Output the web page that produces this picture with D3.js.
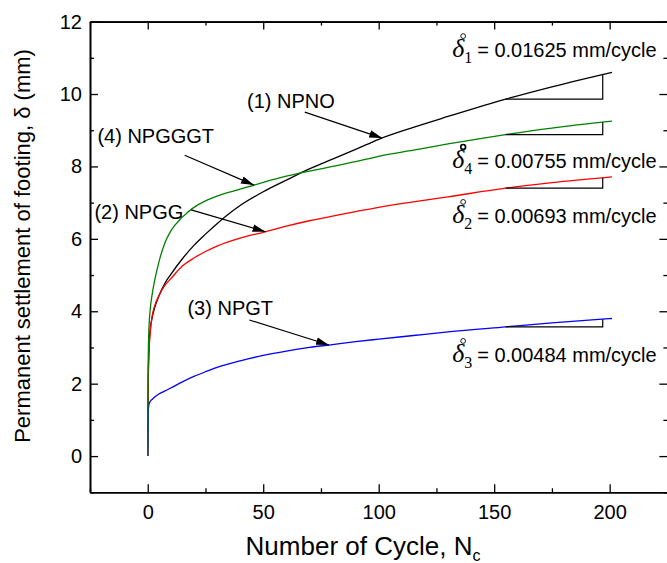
<!DOCTYPE html>
<html lang="en">
<head>
<meta charset="UTF-8">
<title>Permanent settlement of footing vs number of cycles</title>
<style>
  body { margin: 0; background: #fff; }
  svg { display: block; font-family: Arial, "Liberation Sans", sans-serif; }
</style>
</head>
<body>
<svg id="chart" width="667" height="563"></svg>
<script src="https://cdnjs.cloudflare.com/ajax/libs/d3/7.8.5/d3.min.js"></script>
<script>

// cycle numbers at which the curves were read
var cycles = [0, 0.2, 0.5, 1, 2, 3, 5, 7.5, 10, 15, 20, 25, 30, 40, 50, 60, 70, 80, 90, 100, 115, 130, 155, 175, 201];

// settlement (mm) of each test
var npno   = [0, 2.0, 2.9, 3.45, 3.85, 4.1, 4.45, 4.78, 5.02, 5.45, 5.82, 6.13, 6.42, 6.92, 7.3, 7.62, 7.93, 8.2, 8.47, 8.75, 9.08, 9.38, 9.86, 10.2, 10.6];
var npgg   = [0, 2.0, 2.8, 3.35, 3.9, 4.15, 4.45, 4.72, 4.9, 5.25, 5.47, 5.65, 5.8, 6.02, 6.18, 6.35, 6.5, 6.63, 6.75, 6.87, 7.02, 7.16, 7.4, 7.55, 7.71];
var npgt   = [0, 1.2, 1.42, 1.5, 1.57, 1.63, 1.72, 1.8, 1.88, 2.05, 2.2, 2.33, 2.45, 2.63, 2.78, 2.9, 3.0, 3.08, 3.16, 3.23, 3.33, 3.43, 3.57, 3.68, 3.8];
var npgggt = [0, 2.6, 3.5, 4.0, 4.5, 4.85, 5.4, 5.9, 6.22, 6.6, 6.87, 7.05, 7.18, 7.37, 7.56, 7.73, 7.87, 8.0, 8.13, 8.28, 8.45, 8.62, 8.88, 9.06, 9.25];

var seriesNames  = ["NPNO", "NPGG", "NPGT", "NPGGGT"];
var seriesValues = [npno, npgg, npgt, npgggt];
var seriesColors = ["#000000", "#ff0000", "#0000ff", "#008000"];

// tick values
var xTicks = [0, 50, 100, 150, 200];
var yTicks = [0, 2, 4, 6, 8, 10, 12];

// labels with arrows: text start, arrow tail (cycle, mm) and arrow tip cycle on the curve
var labelText  = ["(1) NPNO", "(2) NPGG", "(3) NPGT", "(4) NPGGGT"];
var labelAt    = [[43, 9.6], [-23.1, 6.55], [17.2, 3.9], [-21.8, 8.65]];
var arrowTail  = [[68, 9.5], [18.8, 6.8], [44, 3.76], [16, 8.31]];
var arrowTip   = [101.5, 51, 78.5, 46];

// slope triangles and rates (mm/cycle)
var slopeIndex = ["1", "2", "3", "4"];
var slopeRate  = ["0.01625", "0.00693", "0.00484", "0.00755"];
var slopeLabelAt = [[131.8, 11.02], [131.8, 6.44], [131.8, 2.6], [131.8, 7.96]];
var triangleFrom = 155, triangleTo = 197;

var svg = d3.select("#chart");
var mLeft = 90, mRight = 667.4, mTop = 21.6, mBottom = 492.3;

var x = d3.scaleLinear().domain([-25, 225]).range([mLeft, mRight]);
var y = d3.scaleLinear().domain([-1, 12]).range([mBottom, mTop]);

function valueAt(vals, n) {
    var i = d3.bisectRight(cycles, n);
    if (i <= 0) return vals[0];
    if (i >= cycles.length) return vals[vals.length - 1];
    var t = (n - cycles[i - 1]) / (cycles[i] - cycles[i - 1]);
    return vals[i - 1] + t * (vals[i] - vals[i - 1]);
}

// axes, ticks pointing inward on all four sides
function styleAxis(g) {
    g.select(".domain").attr("stroke-width", 1.6);
    g.selectAll(".tick line").attr("stroke-width", 1.3);
    g.selectAll(".tick text").attr("font-size", 20).attr("fill", "#000");
    g.attr("font-family", null);
}

var minorX = d3.range(-25, 226, 25).filter(function (d) { return xTicks.indexOf(d) < 0; });
var minorY = d3.range(-1, 13, 1).filter(function (d) { return yTicks.indexOf(d) < 0; });

svg.append("g").attr("transform", "translate(0," + mBottom + ")")
    .call(d3.axisBottom(x).tickValues(xTicks).tickSizeInner(-8).tickSizeOuter(0).tickPadding(13))
    .call(styleAxis);
svg.append("g").attr("transform", "translate(0," + mBottom + ")")
    .call(d3.axisBottom(x).tickValues(minorX).tickSizeInner(-4).tickSizeOuter(0).tickFormat(""))
    .call(styleAxis);
svg.append("g").attr("transform", "translate(0," + mTop + ")")
    .call(d3.axisTop(x).tickValues(xTicks).tickSizeInner(-8).tickSizeOuter(0).tickFormat(""))
    .call(styleAxis);
svg.append("g").attr("transform", "translate(0," + mTop + ")")
    .call(d3.axisTop(x).tickValues(minorX).tickSizeInner(-4).tickSizeOuter(0).tickFormat(""))
    .call(styleAxis);

svg.append("g").attr("transform", "translate(" + mLeft + ",0)")
    .call(d3.axisLeft(y).tickValues(yTicks).tickSizeInner(-8).tickSizeOuter(0).tickPadding(8))
    .call(styleAxis);
svg.append("g").attr("transform", "translate(" + mLeft + ",0)")
    .call(d3.axisLeft(y).tickValues(minorY).tickSizeInner(-4).tickSizeOuter(0).tickFormat(""))
    .call(styleAxis);
svg.append("g").attr("transform", "translate(" + mRight + ",0)")
    .call(d3.axisRight(y).tickValues(yTicks).tickSizeInner(-8).tickSizeOuter(0).tickFormat(""))
    .call(styleAxis);
svg.append("g").attr("transform", "translate(" + mRight + ",0)")
    .call(d3.axisRight(y).tickValues(minorY).tickSizeInner(-4).tickSizeOuter(0).tickFormat(""))
    .call(styleAxis);

// axis titles
var xTitle = svg.append("text")
    .attr("x", 363).attr("y", 555)
    .attr("text-anchor", "middle")
    .attr("font-size", 26);
xTitle.append("tspan").text("Number of Cycle, N");
xTitle.append("tspan").attr("font-size", 16).attr("dy", 6).text("c");

svg.append("text")
    .attr("transform", "translate(30,246) rotate(-90)")
    .attr("text-anchor", "middle")
    .attr("font-size", 22)
    .text("Permanent settlement of footing, \u03b4 (mm)");

// curves
var line = d3.line()
    .x(function (d) { return x(d[0]); })
    .y(function (d) { return y(d[1]); })
    .curve(d3.curveMonotoneX);

seriesValues.forEach(function (vals, k) {
    svg.append("path")
        .datum(cycles.map(function (c, i) { return [c, vals[i]]; }))
        .attr("fill", "none")
        .attr("stroke", seriesColors[k])
        .attr("stroke-width", 1.3)
        .attr("d", line);
});

// slope triangles under the last part of each curve
seriesValues.forEach(function (vals) {
    var v0 = valueAt(vals, triangleFrom), v1 = valueAt(vals, triangleTo);
    svg.append("polyline")
        .attr("points", [[x(triangleFrom), y(v0)], [x(triangleTo), y(v0)], [x(triangleTo), y(v1)]].join(" "))
        .attr("fill", "none")
        .attr("stroke", "#000")
        .attr("stroke-width", 1.2);
});

// arrow head
svg.append("defs").append("marker")
    .attr("id", "head")
    .attr("markerUnits", "userSpaceOnUse")
    .attr("viewBox", "0 -4 13 8")
    .attr("refX", 13).attr("refY", 0)
    .attr("markerWidth", 13).attr("markerHeight", 8)
    .attr("orient", "auto")
    .append("path")
    .attr("d", "M0,-3.8L13,0L0,3.8Z")
    .attr("fill", "#000");

labelText.forEach(function (t, k) {
    svg.append("text")
        .attr("x", x(labelAt[k][0])).attr("y", y(labelAt[k][1]))
        .attr("font-size", 20)
        .text(t);
    var tipN = arrowTip[k];
    svg.append("line")
        .attr("x1", x(arrowTail[k][0])).attr("y1", y(arrowTail[k][1]))
        .attr("x2", x(tipN)).attr("y2", y(valueAt(seriesValues[k], tipN)))
        .attr("stroke", "#000")
        .attr("stroke-width", 1.2)
        .attr("marker-end", "url(#head)");
});

// slope labels
slopeRate.forEach(function (r, k) {
    var px = x(slopeLabelAt[k][0]), py = y(slopeLabelAt[k][1]);
    var g = svg.append("g");
    g.append("text")
        .attr("x", px).attr("y", py)
        .attr("font-family", "'Liberation Serif', 'Times New Roman', serif")
        .attr("font-style", "italic")
        .attr("font-size", 26)
        .text("\u03b4");
    g.append("circle")
        .attr("cx", px + 11).attr("cy", py - 21)
        .attr("r", 2.4)
        .attr("fill", "none")
        .attr("stroke", "#000")
        .attr("stroke-width", k === 3 ? 1.7 : 0.9);
    g.append("text")
        .attr("x", px + 12).attr("y", py + 6)
        .attr("font-family", "'Liberation Serif', 'Times New Roman', serif")
        .attr("font-size", 16)
        .text(slopeIndex[k]);
    g.append("text")
        .attr("x", px + 25).attr("y", py)
        .attr("font-size", 20)
        .text("= " + r + " mm/cycle");
});

</script>
</body>
</html>
